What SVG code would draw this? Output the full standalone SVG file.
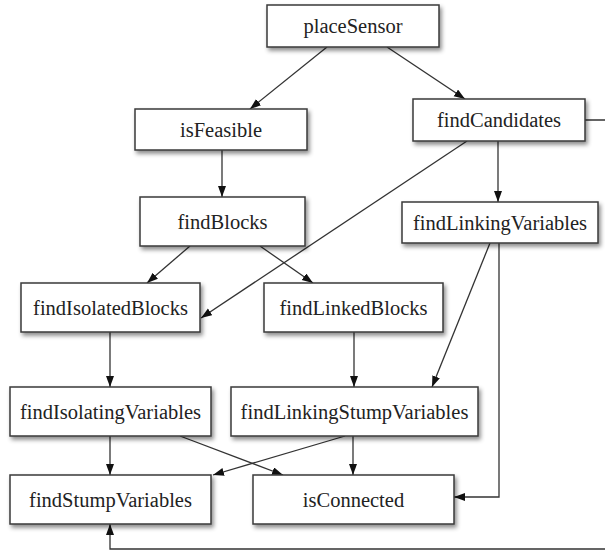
<svg xmlns="http://www.w3.org/2000/svg" width="605" height="552" viewBox="0 0 605 552">
<style>
.box{fill:#fff;stroke:#3a3a3a;stroke-width:1.5;filter:url(#sh)}
.lbl{font-family:"Liberation Serif","Times New Roman",serif;font-size:20.5px;fill:#222;text-anchor:middle;dominant-baseline:central}
.edge{fill:none;stroke:#333;stroke-width:1.3;marker-end:url(#ah)}
</style>
<defs>
<filter id="sh" x="-10%" y="-20%" width="125%" height="160%">
<feDropShadow dx="2" dy="3" stdDeviation="2" flood-color="#000" flood-opacity="0.45"/>
</filter>
<marker id="ah" markerUnits="userSpaceOnUse" markerWidth="12" markerHeight="10" refX="11" refY="4" orient="auto">
<path d="M0,0 L11,4 L0,8 Z" fill="#111"/>
</marker>
</defs>
<g id="connectors">
<path class="edge" d="M327,47 L250,109"/>
<path class="edge" d="M387,47 L465,99"/>
<path class="edge" d="M222,150 L222,197"/>
<path class="edge" d="M498,141 L498,202"/>
<path class="edge" d="M467,141 L201,318"/>
<path class="edge" d="M190,246 L147,283"/>
<path class="edge" d="M260,246 L313,283"/>
<path class="edge" d="M110,332 L110,387"/>
<path class="edge" d="M354,332 L354,387"/>
<path class="edge" d="M490,243 L432,387"/>
<path class="edge" d="M499,243 L499,497 L454,497"/>
<path class="edge" d="M110,436 L110,475"/>
<path class="edge" d="M180,436 L283,475"/>
<path class="edge" d="M345,436 L213,475"/>
<path class="edge" d="M353,436 L353,475"/>
<path class="edge" d="M585,120 L612,120 L612,549 L110,549 L110,524"/>
</g>
<g id="placeSensor"><rect class="box" x="267" y="5" width="172" height="42"/><text class="lbl" x="353" y="26">placeSensor</text></g>
<g id="isFeasible"><rect class="box" x="135" y="109" width="172" height="41"/><text class="lbl" x="221" y="129.5">isFeasible</text></g>
<g id="findCandidates"><rect class="box" x="413" y="99" width="172" height="42"/><text class="lbl" x="499" y="120">findCandidates</text></g>
<g id="findBlocks"><rect class="box" x="140" y="197" width="165" height="49"/><text class="lbl" x="222.5" y="221.5">findBlocks</text></g>
<g id="findLinkingVariables"><rect class="box" x="402" y="202" width="196" height="41"/><text class="lbl" x="500" y="222.5">findLinkingVariables</text></g>
<g id="findIsolatedBlocks"><rect class="box" x="21" y="283" width="179" height="49"/><text class="lbl" x="110.5" y="307.5">findIsolatedBlocks</text></g>
<g id="findLinkedBlocks"><rect class="box" x="264" y="283" width="179" height="49"/><text class="lbl" x="353.5" y="307.5">findLinkedBlocks</text></g>
<g id="findIsolatingVariables"><rect class="box" x="10" y="387" width="201" height="49"/><text class="lbl" x="110.5" y="411.5">findIsolatingVariables</text></g>
<g id="findLinkingStumpVariables"><rect class="box" x="231" y="387" width="247" height="49"/><text class="lbl" x="354.5" y="411.5">findLinkingStumpVariables</text></g>
<g id="findStumpVariables"><rect class="box" x="10" y="475" width="201" height="49"/><text class="lbl" x="110.5" y="499.5">findStumpVariables</text></g>
<g id="isConnected"><rect class="box" x="253" y="475" width="201" height="49"/><text class="lbl" x="353.5" y="499.5">isConnected</text></g>
</svg>
